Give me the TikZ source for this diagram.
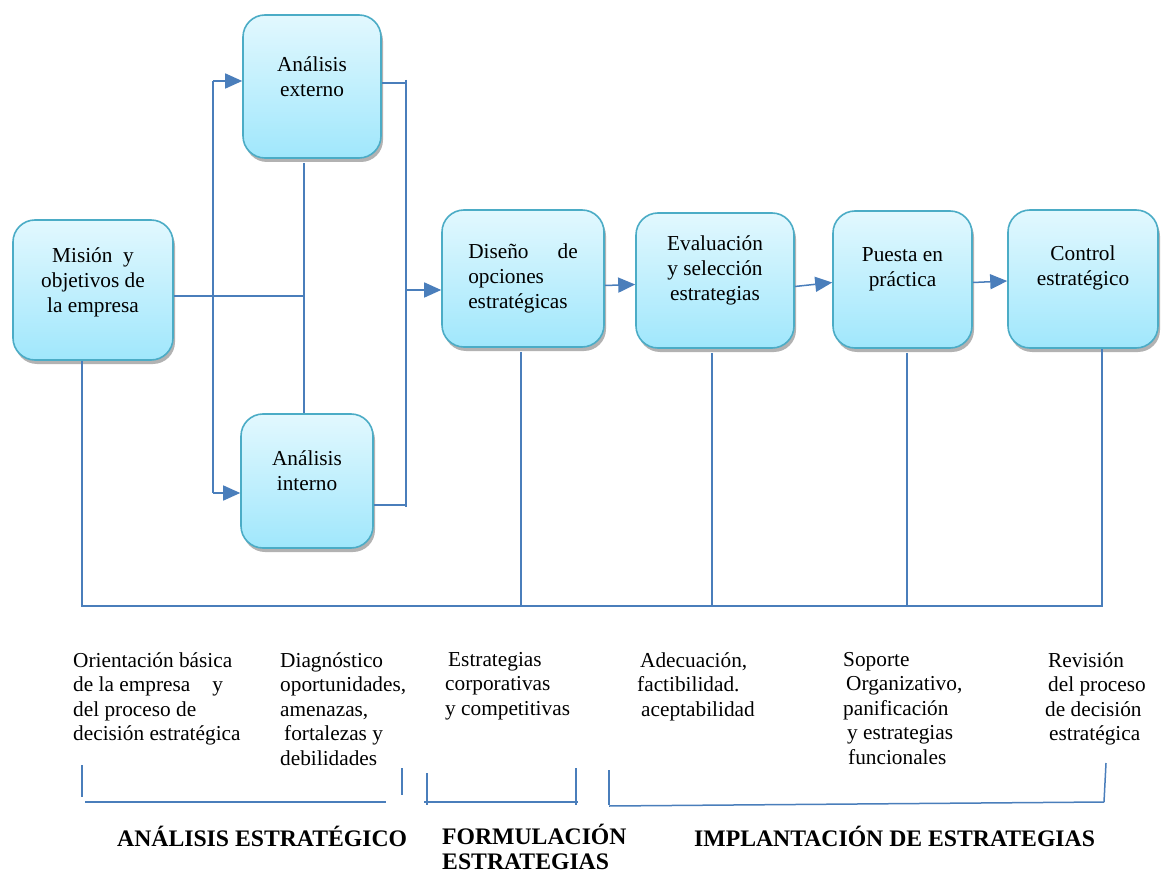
\documentclass[tikz,border=0pt]{standalone}
\usepackage{fontspec}
\setmainfont{Liberation Serif}
\usetikzlibrary{arrows.meta,shadows}

\definecolor{stageline}{HTML}{4BACC6}
\definecolor{stagetop}{HTML}{E2F8FE}
\definecolor{stagebottom}{HTML}{A0E7FC}
\definecolor{linkblue}{HTML}{4A7EBB}

\begin{document}
\begin{tikzpicture}[x=1pt, y=-1pt]
        % Define styles for boxes, texts and lines
        \tikzset{
            stage/.style={draw=stageline, line width=1.6pt, rounded corners=22pt,
                top color=stagetop, bottom color=stagebottom,
                drop shadow={shadow xshift=2pt, shadow yshift=-4pt, opacity=0.3, fill=black}},
            stage text/.style={align=center, inner sep=0pt, font=\fontsize{21.3}{25}\selectfont},
            note/.style={align=left, anchor=north west, inner sep=0pt, font=\fontsize{21.3}{24.5}\selectfont},
            phase/.style={anchor=base west, align=left, inner sep=0pt, font=\bfseries\fontsize{23.7}{25}\selectfont},
            link/.style={draw=linkblue, line width=1.5pt},
            link arrow/.style={link, -{Triangle[length=17pt, width=15pt]}}
        }

        \path[fill=white, use as bounding box] (0,0) rectangle (1161,874);

        % Draw the process boxes
        \node[stage, minimum width=160pt, minimum height=140pt] (mision) at (93,290) {};
        \node[stage, minimum width=138pt, minimum height=143pt] (externo) at (312,86.5) {};
        \node[stage, minimum width=132pt, minimum height=134pt] (interno) at (307,481) {};
        \node[stage, minimum width=162pt, minimum height=137pt] (diseno) at (523,278.5) {};
        \node[stage, minimum width=158pt, minimum height=135pt] (evaluacion) at (715,280.5) {};
        \node[stage, minimum width=139pt, minimum height=137pt] (puesta) at (902.5,279.5) {};
        \node[stage, minimum width=150pt, minimum height=138pt] (control) at (1083,279) {};

        % Texts inside the boxes
        \node[stage text] (mision text) at ([yshift=8pt]mision.center) {Misión\ \ y\\objetivos de\\la empresa};
        \node[stage text] (externo text) at ([yshift=10pt]externo.center) {Análisis\\externo};
        \node[stage text] (interno text) at ([yshift=10pt]interno.center) {Análisis\\interno};
        \node[stage text, align=left] (diseno text) at (diseno.center) {Diseño\hspace{29pt}de\\opciones\\estratégicas};
        \node[stage text] (evaluacion text) at ([yshift=10pt]evaluacion.center) {Evaluación\\y selección\\estrategias};
        \node[stage text] (puesta text) at ([yshift=10pt]puesta.center) {Puesta en\\práctica};
        \node[stage text] (control text) at ([yshift=11pt]control.center) {Control\\estratégico};

        % Coordinates where the lines split and join
        \coordinate (fork top) at (213,81);
        \coordinate (fork bottom) at (213,493);
        \coordinate (hub) at (304,296);
        \coordinate (merge top) at (406,83);
        \coordinate (merge bottom) at (406,505);
        \coordinate (merge) at (406,290);
        \coordinate (bus left) at (82,606);
        \coordinate (bus right) at (1102,606);

        % Lines from the mission to both analyses
        \draw[link] (mision.east |- hub) -- (hub);
        \draw[link] ([yshift=-4pt]hub |- externo.south) -- (hub |- interno.north);
        \draw[link] (fork top) -- (fork bottom);
        \draw[link arrow] (fork top) -- (fork top -| externo.west);
        \draw[link arrow] (fork bottom) -- (fork bottom -| interno.west);

        % Both analyses lead into the design of options
        \draw[link] (externo.east |- merge top) -- (merge top);
        \draw[link] (interno.east |- merge bottom) -- (merge bottom);
        \draw[link] ([yshift=3pt]merge top) -- ([yshift=-2pt]merge bottom);
        \draw[link arrow] (merge) -- (merge -| diseno.west);

        % Chain of the implementation steps
        \draw[link arrow] ([yshift=-7pt]diseno.east) -- ([yshift=-4pt]evaluacion.west);
        \draw[link arrow] ([yshift=-6pt]evaluacion.east) -- ([yshift=-3pt]puesta.west);
        \draw[link arrow] ([yshift=-3pt]puesta.east) -- ([yshift=-2pt]control.west);

        % Common line under the boxes
        \draw[link] (bus left |- mision.south) -- (bus left) -- (bus right) -- (bus right |- control.south);
        \draw[link] ([xshift=-2pt,yshift=-4pt]diseno.south) -- ([xshift=-2pt]diseno.south |- bus left);
        \draw[link] ([xshift=-3pt,yshift=-4pt]evaluacion.south) -- ([xshift=-3pt]evaluacion.south |- bus left);
        \draw[link] ([xshift=4.5pt,yshift=-4pt]puesta.south) -- ([xshift=4.5pt]puesta.south |- bus left);

        % Notes under each step
        \node[note] (orientacion) at (73,652) {Orientación básica\\de la empresa\hspace{22pt}y\\del proceso de\\decisión estratégica};
        \node[note] (diagnostico) at (280,652) {Diagnóstico\\oportunidades,\\amenazas,\\\hspace*{4pt}fortalezas y\\debilidades};
        \node[note] (estrategias) at (445,652) {\hspace*{3pt}Estrategias\\corporativas\\y competitivas};
        \node[note] (adecuacion) at (637,652) {\hspace*{3pt}Adecuación,\\factibilidad.\\\hspace*{4pt}aceptabilidad};
        \node[note] (soporte) at (843,652) {Soporte\\\hspace*{3pt}Organizativo,\\panificación\\\hspace*{4pt}y estrategias\\\hspace*{5pt}funcionales};
        \node[note] (revision) at (1045,652) {\hspace*{3pt}Revisión\\\hspace*{3pt}del proceso\\de decisión\\\hspace*{4pt}estratégica};

        % Brackets grouping the phases
        \draw[link] (82,765) -- (82,797);
        \draw[link] (85,802) -- (386,802);
        \draw[link] (402,768) -- (402,795);
        \draw[link] (427,773) -- (427,805);
        \draw[link] (424,802) -- (578,802);
        \draw[link] (576,768) -- (576,805);
        \draw[link] (609,770) -- (609,805);
        \draw[link] (609,806) -- (1104,802);
        \draw[link] (1106,763) -- (1104,802);

        % Names of the phases
        \node[phase] (analisis) at (117,846) {ANÁLISIS ESTRATÉGICO};
        \node[phase] (formulacion) at (442,869) {FORMULACIÓN\\ESTRATEGIAS};
        \node[phase] (implantacion) at (694,846) {IMPLANTACIÓN DE ESTRATEGIAS};

    \end{tikzpicture}
\end{document}
